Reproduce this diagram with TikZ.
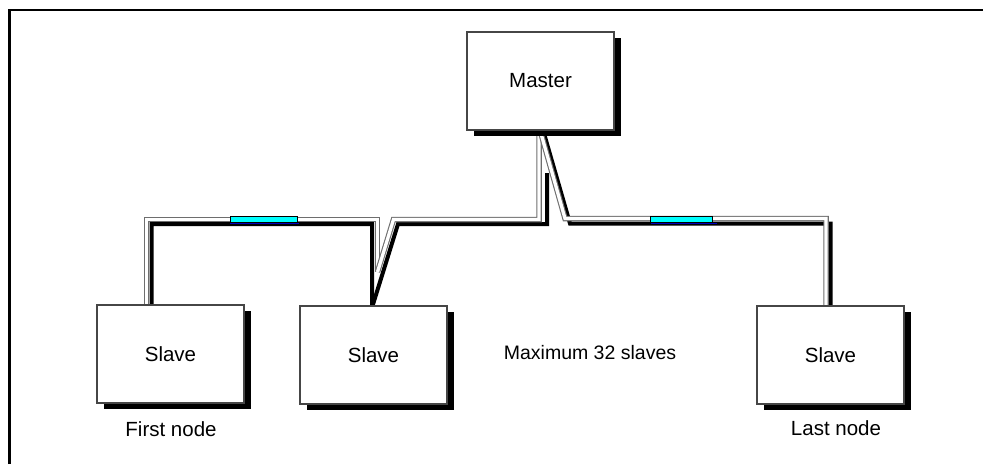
\documentclass[tikz,border=0pt]{standalone}
\usepackage{fontspec}
\setmainfont{Liberation Sans}
\usetikzlibrary{shadows}
\pgfdeclarelayer{background}
\pgfsetlayers{background,main}
\definecolor{boxgray}{RGB}{70,70,70}
\definecolor{cablegray}{RGB}{110,110,110}
\definecolor{termcyan}{RGB}{0,255,255}
\definecolor{termblue}{RGB}{0,0,190}
\tikzset{
  unit/.style={draw=boxgray, line width=1.2pt, fill=white, inner sep=0pt, outer sep=0pt,
    minimum height=98pt, minimum width=147pt, font=\fontsize{20.5}{24}\selectfont,
    drop shadow={shadow xshift=7pt, shadow yshift=-6pt, fill=black, opacity=1}},
  lbl/.style={font=\fontsize{20.5}{24}\selectfont, inner sep=0pt},
  cableblack/.style={draw=black, line width=4pt},
  cablewhite/.style={draw=cablegray, line width=5.5pt, postaction={draw=white, line width=3.3pt}},
  term/.style={draw=black, line width=0.8pt, fill=termcyan},
  termline/.style={draw=termblue, line width=1.4pt}
}
\begin{document}
\begin{tikzpicture}[x=1pt,y=-1pt]
\useasboundingbox (0,0) rectangle (983,464);
% frame (top and left only)
\draw[line width=2.2pt] (9.5,464) -- (9.5,10.3) -- (983,10.3);

% units
\node[unit] (m) at (540.5,81) {Master};
\node[unit] (s1) at (170.5,354) {Slave};
\node[unit] (s2) at (373.5,355) {Slave};
\node[unit] (s3) at (830.5,355) {Slave};

\node[lbl] (l1) at (171,429) {First node};
\node[lbl] (l3) at (836,428) {Last node};
\node[lbl, font=\fontsize{19.5}{23}\selectfont] (max) at (590,353) {Maximum 32 slaves};

% bend points
\coordinate (wa1) at (146.5,219.5);
\coordinate (wa2) at (377.5,219.5);
\coordinate (wa3) at (377.5,272);
\coordinate (ba1) at (151.7,224);
\coordinate (ba2) at (372,224);
\coordinate (wb1) at (393.5,219.5);
\coordinate (wb2) at (539,219.5);
\coordinate (bb1) at (398,224);
\coordinate (bb2) at (547,224);
\coordinate (bb3) at (547,173);
\coordinate (wc1) at (565,218.5);
\coordinate (wc2) at (826,218.5);
\coordinate (bc1) at (570,223.5);
\coordinate (bc2) at (830.5,223.5);

\begin{pgfonlayer}{background}
% black parts
\draw[cableblack] ([xshift=-19pt]s1.north) -- (ba1) -- (ba2) -- ([xshift=-1.5pt]s2.north);
\draw[cableblack] ([xshift=-1pt]s2.north) -- (bb1) -- (bb2) -- (bb3);
\draw[cableblack] ([xshift=2.5pt]m.south) -- (bc1) -- (bc2) -- (s3.north);
% white parts
\draw[cablewhite] ([xshift=-24pt]s1.north) -- (wa1) -- (wa2) -- (wa3);
\draw[cablewhite] (wa3) -- (wb1) -- (wb2) -- ([xshift=-1.5pt]m.south);
\draw[cablewhite] ([xshift=-0.5pt]m.south) -- (wc1) -- (wc2) -- ([xshift=-4.5pt]s3.north);
\end{pgfonlayer}

% terminators
\draw[termline] (230,223.6) -- (299,223.6);
\draw[term] (230.7,216.7) rectangle (297.3,222.3);
\draw[termline] (650.7,223.6) -- (717,223.6);
\draw[term] (650,216.3) rectangle (712.7,222.5);
\end{tikzpicture}
\end{document}
